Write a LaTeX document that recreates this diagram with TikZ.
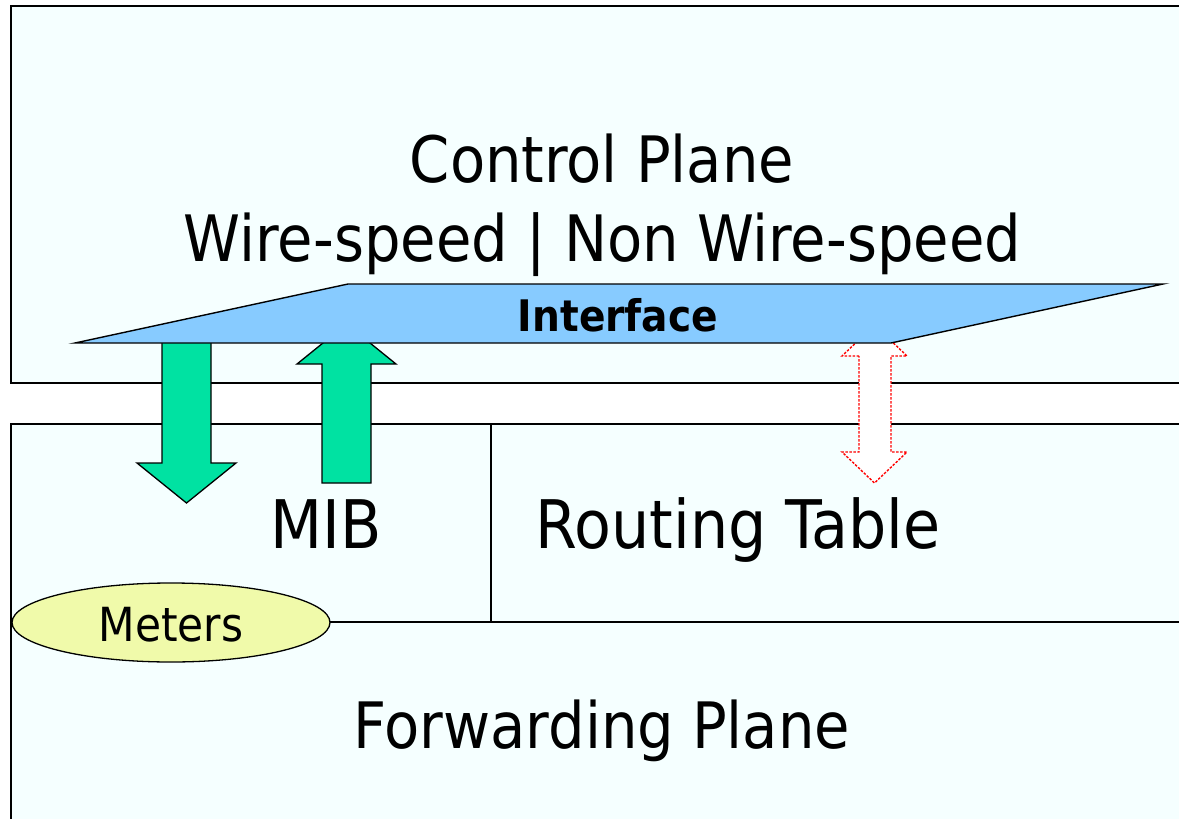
\documentclass[tikz,border=0pt]{standalone}
\usepackage{fontspec}
\setmainfont{DejaVu Sans Condensed}
\usetikzlibrary{shapes.geometric}
\definecolor{planebg}{RGB}{245,255,255}
\definecolor{ifblue}{RGB}{135,203,255}
\definecolor{arrgreen}{RGB}{0,226,162}
\definecolor{meteryel}{RGB}{240,250,170}
\definecolor{dashred}{RGB}{255,0,0}
\tikzset{
  plane/.style={fill=planebg,draw=black,line width=1.8pt},
  divider/.style={draw=black,line width=1.4pt},
  greenarrow/.style={fill=arrgreen,draw=black,line width=1.3pt},
  redarrow/.style={fill=white,draw=dashred,line width=1.4pt,dash pattern=on 2.5pt off 1.5pt},
  iface/.style={fill=ifblue,draw=black,line width=1.4pt},
  bigtext/.style={font=\fontsize{64}{72}\selectfont,anchor=base,inner sep=0pt},
}
\begin{document}
\begin{tikzpicture}[x=1pt,y=-1pt]
\useasboundingbox[fill=white] (0,0) rectangle (1179,819);
% planes
\path[plane] (11,6) rectangle (1190,383);
\path[plane] (11,424) rectangle (1190,830);
\draw[divider] (11,622) -- (1190,622);
\draw[divider] (491,424) -- (491,622);
% arrows
\path[greenarrow] (162,340) -- (211,340) -- (211,463) -- (236,463) -- (186.5,503) -- (137,463) -- (162,463) -- cycle;
\path[greenarrow] (322,483) -- (371,483) -- (371,364) -- (396,364) -- (346.5,324) -- (297,364) -- (322,364) -- cycle;
\path[redarrow] (859,356) -- (842,356) -- (874.5,325) -- (907,356) -- (891,356) -- (891,452) -- (907,452) -- (874.5,483) -- (842,452) -- (859,452) -- cycle;
% interface
\path[iface] (75,343) -- (348,284) -- (1163,284) -- (891,343) -- cycle;
\node[font=\fontsize{43.5}{50}\selectfont\bfseries,anchor=base,inner sep=0pt] (iface) at (618,331) {Interface};
% texts
\node[bigtext] (cp) at (602,182) {Control Plane};
\node[bigtext] (ws) at (602.5,261) {Wire-speed | Non Wire-speed};
\node[bigtext,font=\fontsize{67}{74}\selectfont] (mib) at (326.5,548) {MIB};
\node[bigtext,font=\fontsize{67}{74}\selectfont] (rt) at (738,548) {Routing Table};
\node[bigtext] (fp) at (602,748) {Forwarding Plane};
% meters
\node[ellipse,fill=meteryel,draw=black,line width=1.3pt,minimum width=318pt,minimum height=79pt,inner sep=0pt] (meters) at (171,622.5) {};
\node[font=\fontsize{47}{53}\selectfont,anchor=base,inner sep=0pt] (mt) at (171,641) {Meters};
\end{tikzpicture}
\end{document}
